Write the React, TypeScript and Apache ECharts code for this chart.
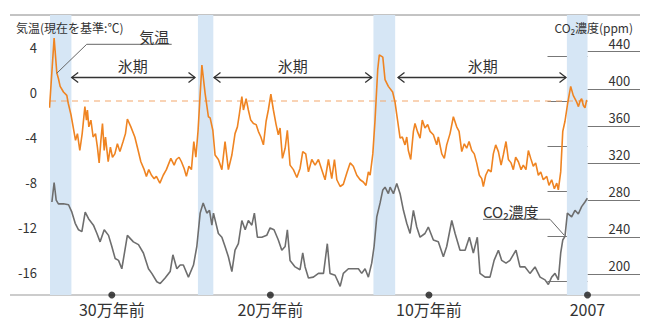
import React, { useEffect, useRef } from 'react';
import * as echarts from 'echarts';

// thousand years relative to present (2007)
const tempKyr = [
  -339.3, -336.4, -334.7, -333.7, -332.6, -330.5, -328.4, -327.5, -325.8, -324.4, -322.9, -321.7, -320.2,
  -318.7, -317.0, -316.0, -315.4, -314.5, -313.2, -311.8, -310.3, -309.1, -308.0, -306.9, -305.9, -304.8,
  -304.0, -302.3, -300.9, -299.6, -298.1, -296.5, -294.9, -292.9, -291.4, -290.2, -288.0, -285.5, -283.4,
  -281.7, -279.6, -278.2, -276.7, -275.0, -273.3, -271.9, -269.7, -267.6, -265.6, -262.8, -260.7, -259.3,
  -257.6, -256.1, -254.4, -253.0, -251.4, -249.8, -248.3, -247.0, -245.6, -244.5, -243.2, -241.2, -239.1,
  -238.0, -236.3, -234.9, -232.8, -230.6, -228.6, -226.5, -224.3, -222.3, -220.8, -219.5, -218.0, -217.0,
  -215.3, -213.9, -212.4, -210.7, -209.0, -207.6, -206.0, -204.4, -202.7, -201.3, -199.7, -198.1, -196.4,
  -195.0, -193.9, -192.4, -190.7, -189.3, -187.6, -185.5, -183.3, -181.3, -179.6, -177.7, -176.0, -173.9,
  -171.8, -169.7, -167.6, -165.5, -163.4, -161.3, -159.6, -158.1, -156.0, -154.0, -151.8, -149.7, -147.7,
  -145.5, -143.4, -141.4, -139.7, -138.2, -137.1, -135.4, -134.0, -132.3, -131.3, -129.1, -127.7, -125.6,
  -122.9, -121.4, -119.7, -118.2, -116.8, -115.1, -114.0, -113.0, -111.5, -109.8, -108.8, -107.3, -105.6,
  -104.2, -102.5, -100.8, -99.3, -97.2, -95.1, -94.1, -91.9, -90.3, -88.8, -86.7, -84.6, -82.5, -81.0,
  -79.3, -77.7, -76.2, -74.7, -73.0, -71.4, -69.9, -68.2, -66.7, -65.7, -64.2, -62.5, -60.8, -59.4, -57.9,
  -56.2, -54.5, -53.1, -51.4, -49.9, -48.2, -46.8, -45.3, -43.6, -41.9, -40.5, -38.8, -37.3, -35.8, -34.2,
  -32.7, -31.0, -29.5, -27.9, -25.7, -24.3, -22.6, -20.9, -19.4, -18.4, -16.9, -15.6, -14.2, -12.5, -10.6,
  -9.0, -6.8, -5.7, -4.7, -3.7, -2.6, -1.6, -0.5,
];
// °C relative to present
const tempVal = [
  -0.6, 5.6, 2.5, 2.0, 1.3, 0.8, 0.5, -0.2, -1.2, -2.3, -3.5, -2.9, -4.4,
  -2.9, -0.5, -1.7, -0.8, -2.3, -1.7, -3.2, -2.9, -4.1, -5.5, -3.5, -2.0, -4.4,
  -3.2, -5.4, -4.1, -5.0, -4.7, -3.8, -4.5, -3.6, -2.9, -1.6, -2.3, -3.2, -4.4,
  -5.4, -6.1, -6.7, -6.1, -6.6, -6.9, -6.7, -7.3, -6.6, -6.1, -5.1, -5.7, -5.2,
  -5.0, -5.4, -6.0, -6.7, -5.8, -6.1, -3.6, -5.0, -2.6, 0.1, 3.2, 0.7, -1.4,
  -1.5, -2.6, -4.8, -5.2, -6.1, -3.6, -6.1, -4.8, -2.9, -2.3, -1.1, 0.4, -0.8,
  0.2, -0.8, -1.7, -2.0, -2.1, -2.7, -3.2, -3.9, -1.8, -0.8, 0.6, -0.8, -2.1,
  -3.0, -2.4, -5.1, -4.2, -2.6, -5.7, -6.1, -6.8, -6.0, -4.5, -4.7, -6.3, -5.2,
  -5.7, -5.2, -6.1, -7.0, -5.2, -6.9, -5.2, -7.0, -7.6, -7.4, -6.4, -5.5, -5.8,
  -6.6, -7.0, -7.2, -7.5, -6.3, -6.6, -4.7, -1.7, 2.8, 4.1, 3.9, 1.9, 1.3,
  0.8, -0.1, -1.8, -3.3, -3.2, -3.9, -3.2, -4.4, -5.2, -2.7, -2.0, -2.7, -3.3,
  -1.7, -2.4, -2.1, -2.7, -3.0, -3.9, -3.2, -4.7, -5.1, -3.9, -2.9, -1.4, -2.3, -2.7,
  -4.5, -3.8, -4.2, -3.6, -4.4, -4.7, -5.5, -6.6, -6.9, -7.6, -6.6, -6.1, -6.3, -4.7, -3.9,
  -4.5, -5.7, -4.8, -3.6, -5.2, -5.5, -6.1, -5.0, -5.4, -6.1, -5.7, -6.1, -4.4, -5.1, -5.8,
  -5.5, -6.6, -6.3, -7.0, -6.7, -7.5, -7.0, -7.8, -7.3, -7.9, -6.3, -2.7, -1.8, -0.2, 1.3,
  0.5, -0.1, -0.5, 0.0, 0.2, -0.4, -0.6, 0.1,
];

const co2Kyr = [
  -337.8, -336.4, -335.1, -333.7, -330.5, -327.3, -325.2, -323.1, -321.0, -318.9, -316.8, -314.7, -311.6,
  -309.4, -307.4, -304.8, -302.1, -300.0, -297.9, -295.8, -293.7, -290.2, -286.4, -283.2, -280.1, -276.9,
  -274.8, -271.6, -269.5, -266.4, -263.2, -261.5, -259.0, -256.9, -254.9, -251.7, -248.5, -246.4, -244.3,
  -242.4, -240.1, -238.4, -236.9, -235.9, -232.8, -230.6, -228.6, -226.5, -224.3, -222.3, -220.2, -218.0,
  -215.9, -213.9, -211.7, -210.1, -208.2, -205.4, -202.3, -200.2, -197.7, -195.0, -192.8, -190.7, -189.3,
  -187.6, -184.4, -181.3, -179.6, -178.1, -176.0, -172.9, -169.7, -166.5, -164.1, -162.4, -159.2, -156.0,
  -154.0, -150.8, -147.6, -144.5, -142.4, -140.3, -138.2, -136.1, -134.6, -132.9, -130.8, -129.1, -127.7,
  -125.6, -124.5, -122.4, -120.3, -118.2, -116.1, -114.0, -111.9, -109.8, -107.7, -105.6, -102.5, -100.4,
  -97.2, -94.1, -90.9, -88.8, -85.6, -83.5, -80.4, -77.2, -74.5, -72.0, -69.5, -67.8, -64.6, -61.5, -58.9,
  -56.2, -54.1, -51.4, -48.9, -45.1, -42.6, -39.4, -36.3, -33.1, -29.9, -26.8, -24.7, -22.6, -20.5, -18.4,
  -16.9, -15.6, -14.2, -12.7, -10.0, -7.9, -5.8, -3.7, -1.6, -0.1,
];
// ppm
const co2Val = [
  278, 299, 280, 276, 276, 275, 267, 255, 248, 246, 267, 260, 253,
  244, 235, 248, 242, 230, 217, 215, 206, 242, 235, 232, 223, 206,
  201, 192, 190, 196, 203, 221, 206, 210, 210, 197, 210, 230, 266,
  277, 266, 269, 253, 266, 244, 240, 230, 219, 203, 226, 233, 258,
  248, 258, 253, 266, 240, 240, 242, 250, 248, 237, 226, 230, 248,
  215, 208, 205, 223, 208, 196, 197, 201, 201, 233, 201, 199, 187,
  201, 206, 206, 206, 201, 206, 197, 212, 230, 262, 277, 291, 294,
  287, 294, 287, 298, 287, 269, 255, 244, 269, 251, 240, 244, 251,
  237, 235, 219, 230, 258, 244, 226, 226, 240, 223, 240, 201, 197, 197, 215,
  226, 215, 212, 215, 226, 208, 208, 201, 208, 197, 194, 189, 197, 201, 194,
  223, 237, 241, 266, 262, 269, 265, 273, 278, 282,
];

const interglacialStart = [-339, -245.7, -135, -13];
const interglacialEnd = [-325.5, -236, -121.3, 0];
const presentLevelKyr = [-339, 0];
const presentLevelVal = [0, 0];

const xTickValues = [-300, -200, -100, 0];
const xTickLabels = ['30万年前', '20万年前', '10万年前', '2007'];
const tempTicks = [-16, -12, -8, -4, 0, 4];
const co2Ticks = [200, 240, 280, 320, 360, 400, 440];

const FONT = "'Noto Sans CJK JP', 'Noto Sans', sans-serif";
const TXT = '#333333';

function arrow(x1: number, x2: number, y: number, tx: number): any[] {
  const s = { stroke: '#333', lineWidth: 1.3, fill: 'none' };
  return [
    { type: 'line', z: 50, shape: { x1, y1: y, x2, y2: y }, style: s },
    { type: 'polyline', z: 50, shape: { points: [[x1 + 6.5, y - 5], [x1, y], [x1 + 6.5, y + 5]] }, style: s },
    { type: 'polyline', z: 50, shape: { points: [[x2 - 6.5, y - 5], [x2, y], [x2 - 6.5, y + 5]] }, style: s },
    {
      type: 'text',
      z: 50,
      style: { text: '氷期', x: tx, y: 65.5, align: 'center', verticalAlign: 'middle', fill: TXT, font: `15px ${FONT}` },
    },
  ];
}

export default function App() {
  const ref = useRef<HTMLDivElement>(null);
  useEffect(() => {
    if (!ref.current) return;
    const chart = echarts.init(ref.current, undefined, { renderer: 'svg' });
    const tempData = tempKyr.map((k, i) => [k, tempVal[i]]);
    const co2Data = co2Kyr.map((k, i) => [k, co2Val[i]]);
    const refData = presentLevelKyr.map((k, i) => [k, presentLevelVal[i]]);
    const yMin = -17.244;
    const option: any = {
      animation: false,
      textStyle: { fontFamily: FONT },
      grid: { left: 50, right: 62.5, top: 15, bottom: 38 },
      xAxis: {
        type: 'value',
        min: -339,
        max: 0,
        axisLine: { show: false },
        axisTick: { show: false },
        splitLine: { show: false },
        axisLabel: {
          customValues: xTickValues,
          formatter: (v: number) => xTickLabels[xTickValues.indexOf(v)] ?? '',
          fontSize: 16,
          color: TXT,
          margin: 6,
          fontFamily: FONT,
          showMinLabel: true,
          showMaxLabel: true,
        },
      },
      yAxis: [
        {
          type: 'value',
          min: yMin,
          max: 7.644,
          position: 'left',
          axisLine: { show: false },
          splitLine: { show: false },
          axisTick: { show: true, customValues: tempTicks, length: 40, inside: false, lineStyle: { color: '#777', width: 1 } },
          axisLabel: {
            customValues: tempTicks,
            fontSize: 13,
            color: TXT,
            margin: 13,
            verticalAlign: 'bottom',
            padding: [0, 0, 2, 0],
            fontFamily: FONT,
          },
        },
        {
          type: 'value',
          min: 177.7,
          max: 479.6,
          position: 'right',
          axisLine: { show: false },
          splitLine: { show: false },
          axisTick: { show: true, customValues: co2Ticks, length: 52.5, inside: false, lineStyle: { color: '#777', width: 1 } },
          axisLabel: {
            customValues: co2Ticks,
            fontSize: 13,
            color: TXT,
            margin: 21,
            align: 'left',
            verticalAlign: 'bottom',
            padding: [0, 0, 2, 0],
            fontFamily: FONT,
          },
        },
      ],
      series: [
        {
          name: '現在',
          type: 'line',
          yAxisIndex: 0,
          data: refData,
          showSymbol: false,
          symbol: 'none',
          silent: true,
          lineStyle: { color: '#f4a76c', width: 1.1, type: [6, 5] },
          z: 2,
          markArea: {
            silent: true,
            itemStyle: { color: '#d6e6f5' },
            data: interglacialStart.map((s, i) => [{ xAxis: s }, { xAxis: interglacialEnd[i] }]),
          },
        },
        {
          name: '気温',
          type: 'line',
          yAxisIndex: 0,
          data: tempData,
          showSymbol: false,
          symbol: 'none',
          lineStyle: { color: '#ef8422', width: 1.6 },
          z: 3,
        },
        {
          name: 'CO2濃度',
          type: 'line',
          yAxisIndex: 1,
          data: co2Data,
          showSymbol: false,
          symbol: 'none',
          lineStyle: { color: '#6e6e6e', width: 1.6 },
          z: 3,
        },
        {
          type: 'scatter',
          yAxisIndex: 0,
          data: xTickValues.map((v) => [v, yMin]),
          symbolSize: 7,
          itemStyle: { color: '#1a1a1a' },
          clip: false,
          z: 5,
        },
      ],
      graphic: [
        { type: 'line', z: 1, shape: { x1: 10, y1: 15, x2: 640, y2: 15 }, style: { stroke: '#888', lineWidth: 1 } },
        { type: 'line', z: 1, shape: { x1: 10, y1: 295, x2: 640, y2: 295 }, style: { stroke: '#999', lineWidth: 1.2 } },
        {
          type: 'text',
          z: 50,
          style: { text: '気温(現在を基準:℃)', x: 16, y: 27, align: 'left', verticalAlign: 'middle', fill: TXT, font: `12px ${FONT}` },
        },
        {
          type: 'text',
          z: 50,
          style: { text: 'CO₂濃度(ppm)', x: 633, y: 27, align: 'right', verticalAlign: 'middle', fill: TXT, font: `12px ${FONT}` },
        },
        ...arrow(71.7, 195, 77.5, 132.7),
        ...arrow(214, 371.7, 77.5, 292.7),
        ...arrow(398, 566, 77.5, 482.7),
        {
          type: 'polyline',
          z: 50,
          shape: { points: [[171.7, 44.3], [86.7, 44.3], [56.7, 73.3]] },
          style: { stroke: '#666', lineWidth: 1, fill: 'none' },
        },
        {
          type: 'text',
          z: 50,
          style: { text: '気温', x: 139.3, y: 36.7, align: 'left', verticalAlign: 'middle', fill: TXT, font: `15px ${FONT}` },
        },
        {
          type: 'polyline',
          z: 50,
          shape: { points: [[483, 219.3], [550, 219.3], [564, 235]] },
          style: { stroke: '#666', lineWidth: 1, fill: 'none' },
        },
        {
          type: 'text',
          z: 50,
          style: { text: 'CO₂濃度', x: 483, y: 211, align: 'left', verticalAlign: 'middle', fill: TXT, font: `15px ${FONT}` },
        },
      ],
    };
    chart.setOption(option);
    return () => chart.dispose();
  }, []);
  return <div ref={ref} style={{ position: 'fixed', left: 0, top: 0, width: 650, height: 333, background: '#fff' }} />;
}
